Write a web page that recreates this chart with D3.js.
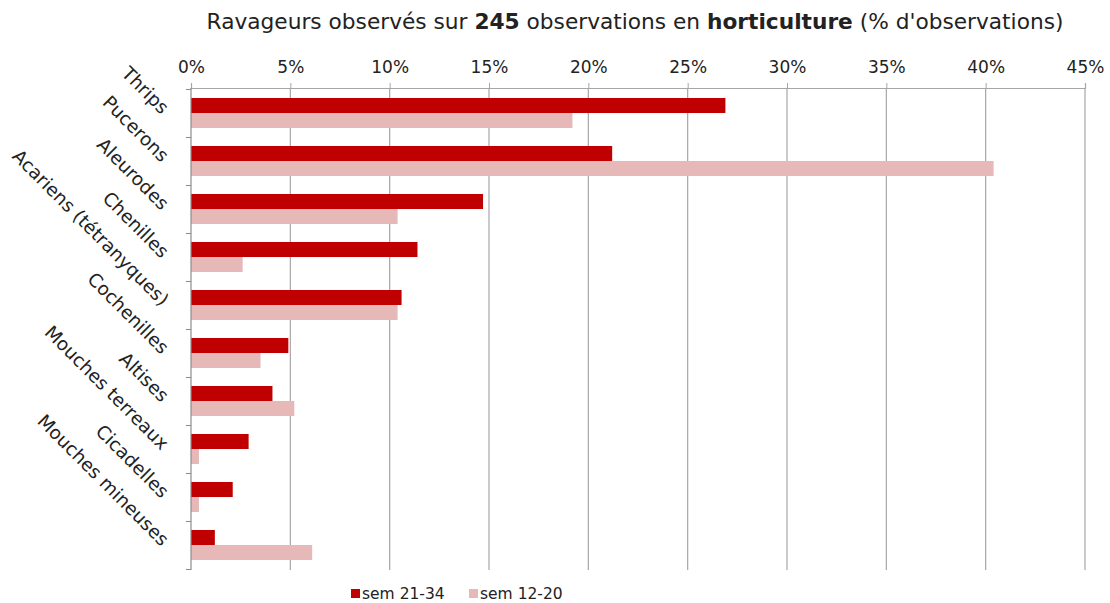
<!DOCTYPE html>
<html>
<head>
<meta charset="utf-8">
<script src="https://cdn.jsdelivr.net/npm/d3@7"></script>
<style>
  body { margin: 0; background: #fff; }
  text { font-family: "DejaVu Sans", Verdana, sans-serif; fill: #222; }
</style>
</head>
<body>
<div id="chart"></div>
<script>
// data (% of observations)
var categories = ["Thrips", "Pucerons", "Aleurodes", "Chenilles", "Acariens (tétranyques)",
  "Cochenilles", "Altises", "Mouches terreaux", "Cicadelles", "Mouches mineuses"];
var seriesNames = ["sem 21-34", "sem 12-20"];
var sem2134 = [26.9, 21.2, 14.7, 11.4, 10.6, 4.9, 4.1, 2.9, 2.1, 1.2];
var sem1220 = [19.2, 40.4, 10.4, 2.6, 10.4, 3.5, 5.2, 0.4, 0.4, 6.1];
var xTicks = [0, 5, 10, 15, 20, 25, 30, 35, 40, 45];
var colors = ["#c00000", "#e6b9b8"];

var width = 1110, height = 603;
var plotLeft = 191, plotRight = 1085, plotTop = 88, plotBottom = 570;

var svg = d3.select("#chart").append("svg")
  .attr("width", width)
  .attr("height", height);

var x = d3.scaleLinear().domain([0, 45]).range([plotLeft, plotRight]);
var y = d3.scaleBand().domain(categories).range([plotTop + 1, plotBottom - 1]);
var sub = d3.scaleBand().domain(seriesNames).range([9, 39]);

// title
var title = svg.append("text")
  .attr("x", (plotLeft + plotRight) / 2 - 3)
  .attr("y", 29)
  .attr("text-anchor", "middle")
  .style("font-size", "21.7px");
title.append("tspan").text("Ravageurs observés sur ");
title.append("tspan").style("font-weight", "bold").text("245");
title.append("tspan").text(" observations en ");
title.append("tspan").style("font-weight", "bold").text("horticulture");
title.append("tspan").text(" (% d'observations)");

// grid lines
svg.append("g").selectAll("line")
  .data(xTicks.slice(1))
  .enter().append("line")
  .attr("x1", function(d) { return x(d); })
  .attr("x2", function(d) { return x(d); })
  .attr("y1", plotTop)
  .attr("y2", plotBottom)
  .attr("stroke", "#a6a6a6")
  .attr("stroke-width", 1.2);

// top axis
var xAxis = d3.axisTop(x)
  .tickValues(xTicks)
  .tickSize(5)
  .tickFormat(function(d) { return d + "%"; });
var gx = svg.append("g")
  .attr("transform", "translate(0," + plotTop + ")")
  .call(xAxis);
gx.select(".domain").attr("stroke", "#a6a6a6").attr("stroke-width", 1.2);
gx.selectAll(".tick line").attr("stroke", "#a6a6a6");
gx.selectAll(".tick text")
  .style("font-size", "17px")
  .attr("y", -15)
  .attr("fill", "#222");

// bars
var series = [sem2134, sem1220];
series.forEach(function(vals, i) {
  svg.append("g").selectAll("rect")
    .data(vals)
    .enter().append("rect")
    .attr("x", x(0))
    .attr("y", function(d, j) { return y(categories[j]) + sub(seriesNames[i]); })
    .attr("width", function(d) { return x(d) - x(0); })
    .attr("height", sub.bandwidth())
    .attr("fill", colors[i]);
});

// left axis with ticks between categories
var yIdx = d3.scaleLinear().domain([0, categories.length]).range([plotTop + 1, plotBottom - 1]);
var gy = svg.append("g")
  .attr("transform", "translate(" + plotLeft + ",0)")
  .call(d3.axisLeft(yIdx).tickValues(d3.range(categories.length + 1)).tickSize(5).tickFormat(""));
gy.select(".domain").attr("stroke", "#8c8c8c").attr("stroke-width", 1.2)
  .attr("d", "M0," + plotTop + "V" + plotBottom);
gy.selectAll(".tick line").attr("stroke", "#8c8c8c");

// category labels, slanted
svg.append("g").selectAll("text")
  .data(categories)
  .enter().append("text")
  .attr("transform", function(d) {
    return "translate(161," + (y(d) + y.bandwidth() / 2 + 2) + ") rotate(45)";
  })
  .attr("text-anchor", "end")
  .style("font-size", "18.5px")
  .text(function(d) { return d; });

// legend
var legend = svg.append("g").attr("transform", "translate(351,599)");
var lx = [0, 118];
seriesNames.forEach(function(s, i) {
  legend.append("rect")
    .attr("x", lx[i])
    .attr("y", -10)
    .attr("width", 9)
    .attr("height", 9)
    .attr("fill", colors[i]);
  legend.append("text")
    .attr("x", lx[i] + 11)
    .attr("y", 0)
    .style("font-size", "15.5px")
    .text(s);
});
</script>
</body>
</html>
